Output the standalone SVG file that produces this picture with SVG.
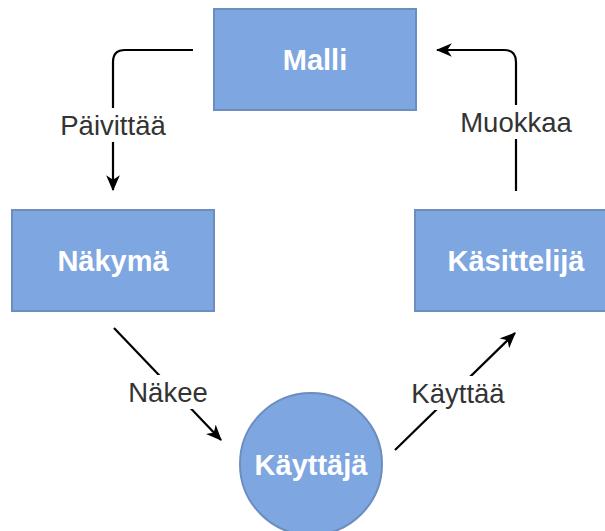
<svg xmlns="http://www.w3.org/2000/svg" width="605" height="531" viewBox="0 0 605 531">
<style>
.node{fill:#7EA6E0;stroke:#6C8EBF;stroke-width:2}
.nt{font-family:"Liberation Sans",Arial,sans-serif;font-size:29px;font-weight:bold;fill:#fff;text-anchor:middle;dominant-baseline:central}
.edge{fill:none;stroke:#000;stroke-width:2.2}
.lbg{fill:#fff}
.lt{font-family:"Liberation Sans",Arial,sans-serif;font-size:27.5px;fill:#333;text-anchor:middle;dominant-baseline:central}
</style>
<defs>
<marker id="arr" markerUnits="userSpaceOnUse" viewBox="0 0 14 12" markerWidth="16" markerHeight="14" refX="13" refY="6" orient="auto">
<path d="M0,0 L14,6 L0,12 L4,6 z" fill="#000"/>
</marker>
</defs>
<g id="edges">
<path class="edge" d="M193,50 L125,50 Q113,50 113,62 L113,190" marker-end="url(#arr)"/>
<path class="edge" d="M516,191 L516,62 Q516,50 504,50 L437,50" marker-end="url(#arr)"/>
<path class="edge" d="M114,328 L221,440" marker-end="url(#arr)"/>
<path class="edge" d="M395,450 L515,333" marker-end="url(#arr)"/>
<g id="edge-labels">
<rect class="lbg" x="58" y="108" width="110" height="34"/>
<text class="lt" x="113" y="125">Päivittää</text>
<rect class="lbg" x="460" y="105" width="112" height="34"/>
<text class="lt" x="516" y="122">Muokkaa</text>
<rect class="lbg" x="126" y="375" width="84" height="34"/>
<text class="lt" x="168" y="392">Näkee</text>
<rect class="lbg" x="408" y="376" width="100" height="34"/>
<text class="lt" x="458" y="393">Käyttää</text>
</g>
</g>
<g id="malli">
<rect class="node" x="214" y="9" width="202" height="101"/>
<text class="nt" x="315" y="60">Malli</text>
</g>
<g id="nakyma">
<rect class="node" x="12" y="210" width="202" height="101"/>
<text class="nt" x="113" y="261">Näkymä</text>
</g>
<g id="kasittelija">
<rect class="node" x="415" y="210" width="202" height="101"/>
<text class="nt" x="516" y="261">Käsittelijä</text>
</g>
<g id="kayttaja">
<circle class="node" cx="311" cy="464" r="71"/>
<text class="nt" x="311" y="465">Käyttäjä</text>
</g>
</svg>
